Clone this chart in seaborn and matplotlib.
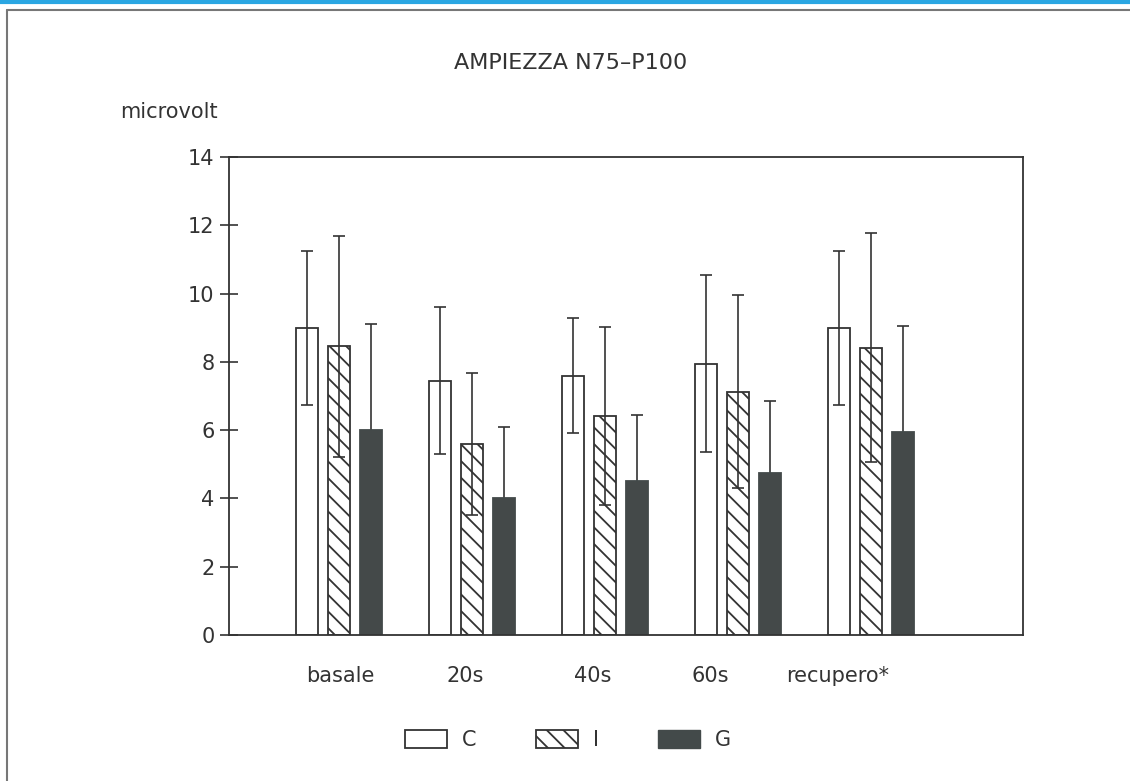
import numpy as np
import pandas as pd
import matplotlib
matplotlib.use("Agg")
import matplotlib.pyplot as plt
import matplotlib.transforms as mtransforms
import seaborn as sns
from matplotlib.patches import Patch
from matplotlib.lines import Line2D

# ---------------- data ----------------
conditions = ["basale", "20s", "40s", "60s", "recupero*"]
groups = ["C", "I", "G"]
mean_C = [9.0, 7.45, 7.6, 7.95, 9.0]
mean_I = [8.45, 5.6, 6.42, 7.13, 8.42]
mean_G = [6.0, 4.0, 4.5, 4.74, 5.95]
sd_C = [2.25, 2.15, 1.67, 2.6, 2.25]
sd_I = [3.25, 2.08, 2.6, 2.83, 3.35]
sd_G = [3.1, 2.1, 1.95, 2.1, 3.1]
y_ticks = [0, 2, 4, 6, 8, 10, 12, 14]
title_text = "AMPIEZZA N75\u2013P100"
unit_text = "microvolt"

means = {"C": mean_C, "I": mean_I, "G": mean_G}
sds = {"C": sd_C, "I": sd_I, "G": sd_G}
df = pd.DataFrame({
    "condition": conditions * 3,
    "group": [g for g in groups for _ in conditions],
    "mean": mean_C + mean_I + mean_G,
})

# ---------------- style ----------------
sns.set_theme(style="white")
plt.rcParams["font.family"] = ["DejaVu Sans"]
plt.rcParams["hatch.color"] = "#333333"
plt.rcParams["hatch.linewidth"] = 1.3

INK = "#333333"
DARK = "#434a4a"
W, H = 1130, 781

fig = plt.figure(figsize=(W / 100, H / 100), dpi=100)
fig.patch.set_facecolor("white")
ax = fig.add_axes([229 / W, 1 - 635 / H, (1023 - 229) / W, (635 - 157) / H])

palette = {"C": "white", "I": "white", "G": DARK}
sns.barplot(data=df, x="condition", y="mean", hue="group",
            order=conditions, hue_order=groups, palette=palette,
            width=0.72, gap=0.3, errorbar=None, edgecolor=INK,
            linewidth=1.3, legend=False, ax=ax)

hatches = {"C": "", "I": "\\\\", "G": ""}
for cont, g in zip(ax.containers, groups):
    for bar in cont:
        bar.set_hatch(hatches[g])
        bar.set_zorder(2)
        if g == "G":
            bar.set_edgecolor(DARK)
    xs = [b.get_x() + b.get_width() / 2 for b in cont]
    z = 1 if g == "G" else 4  # whiskers of dark bars hidden inside the bar
    ax.errorbar(xs, means[g], yerr=sds[g], fmt="none", ecolor=INK,
                elinewidth=1.2, capsize=4, capthick=1.2, zorder=z)

ax.set_xlim(-0.828, 5.144)
ax.set_ylim(0, 14)
ax.set_yticks(y_ticks)
ax.set_yticklabels([str(t) for t in y_ticks])
ax.set_xlabel("")
ax.set_ylabel("")
ax.tick_params(axis="y", direction="inout", length=13, width=1.2,
               pad=4, labelsize=15, colors=INK, left=True)
ax.tick_params(axis="x", length=0, pad=22, labelsize=15, colors=INK)
for sp in ax.spines.values():
    sp.set_visible(True)
    sp.set_color(INK)
    sp.set_linewidth(1.3)

# category labels in the original sit slightly left of their groups
label_shift_px = [1, -7, -12, -28, -33]
for lab, dx in zip(ax.get_xticklabels(), label_shift_px):
    lab.set_transform(lab.get_transform() +
                      mtransforms.ScaledTranslation(dx / 100, 0, fig.dpi_scale_trans))

fig.text(0.505, 1 - 63 / H, title_text, ha="center", va="center",
         fontsize=16, color=INK)
fig.text(120 / W, 1 - 112 / H, unit_text, ha="left", va="center",
         fontsize=15, color=INK)

handles = [
    Patch(facecolor="white", edgecolor=INK, linewidth=1.3, label="C"),
    Patch(facecolor="white", edgecolor=INK, linewidth=1.3,
          hatch="\\\\", label="I"),
    Patch(facecolor=DARK, edgecolor=DARK, label="G"),
]
fig.legend(handles=handles, loc="center", bbox_to_anchor=(568 / W, 1 - 740 / H),
           ncol=3, frameon=False, handlelength=2.0, handleheight=0.92,
           handletextpad=0.72, columnspacing=2.85, fontsize=15,
           labelcolor=INK)

# scan frame
fig.add_artist(Line2D([0, 1], [1 - 1.5 / H, 1 - 1.5 / H], transform=fig.transFigure,
                      color="#2aa6e2", linewidth=3))
fig.add_artist(Line2D([7 / W, 1], [1 - 10 / H, 1 - 10 / H], transform=fig.transFigure,
                      color="#777777", linewidth=1.5))
fig.add_artist(Line2D([7 / W, 7 / W], [0, 1 - 10 / H], transform=fig.transFigure,
                      color="#777777", linewidth=1.5))

fig.savefig("out.png", dpi=100)
